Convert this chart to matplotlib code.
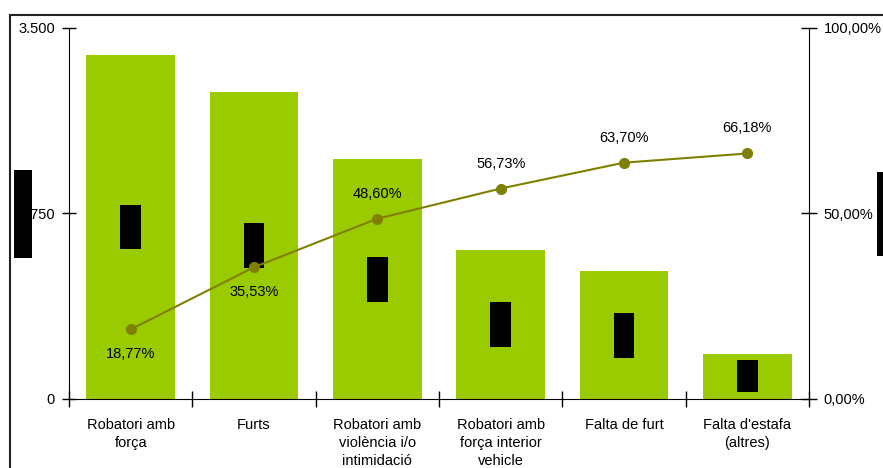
import matplotlib.pyplot as plt
from matplotlib.patches import Rectangle

plt.rcParams['font.family'] = ['Liberation Sans', 'DejaVu Sans']

categories = ["Robatori amb\nforça", "Furts", "Robatori amb\nviolència i/o\nintimidació",
              "Robatori amb\nforça interior\nvehicle", "Falta de furt", "Falta d'estafa\n(altres)"]
values = [3245, 2898, 2260, 1405, 1205, 429]
cum_pct = [18.77, 35.53, 48.60, 56.73, 63.70, 66.18]
pct_above = [False, False, True, True, True, True]
left_ticks = [0, 1750, 3500]
right_ticks = [0, 50, 100]

bar_color = "#9ACB00"
line_color = "#808000"

fig = plt.figure(figsize=(8.83, 4.68), dpi=100)
ax = fig.add_axes([69 / 883, 1 - 399 / 468, 740 / 883, 371 / 468])
x = list(range(len(categories)))

ax.bar(x, values, width=0.72, color=bar_color, zorder=2)
ax.set_xlim(-0.5, len(categories) - 0.5)
ax.set_ylim(0, 3500)
ax.set_yticks(left_ticks)
ax.set_yticklabels([f"{t:,}".replace(",", ".") for t in left_ticks], fontsize=10.5)
ax.set_xticks([i + 0.5 for i in range(-1, len(categories))])
ax.set_xticklabels([])
ax.set_xticks(x, minor=True)
ax.set_xticklabels(categories, minor=True, fontsize=10.5, linespacing=1.35)
ax.tick_params(axis="x", which="minor", length=0, pad=14)
ax.tick_params(axis="x", which="major", direction="inout", length=11, width=1)
ax.tick_params(axis="y", direction="inout", length=10, width=1, pad=5)
for s in ["top", "right"]:
    ax.spines[s].set_visible(False)

# value labels (hidden in black, as in the source)
for xi, v in zip(x, values):
    ax.text(xi, v / 2, f"{v:,}".replace(",", "."), rotation=90, ha="center", va="center",
            fontsize=11, color="black", zorder=4,
            bbox=dict(boxstyle="square,pad=0.22", fc="black", ec="none"))

ax2 = ax.twinx()
ax2.plot(x, cum_pct, color=line_color, lw=1.5, marker="o", ms=7, zorder=5)
ax2.set_ylim(0, 100)
ax2.set_yticks(right_ticks)
ax2.set_yticklabels([f"{t:.2f}%".replace(".", ",") for t in right_ticks], fontsize=10.5)
ax2.tick_params(axis="y", direction="inout", length=11, width=1, pad=5)
for s in ["top", "left", "bottom"]:
    ax2.spines[s].set_visible(False)
for xi, p, up in zip(x, cum_pct, pct_above):
    ax2.annotate(f"{p:.2f}%".replace(".", ","), (xi, p), xytext=(0, 18 if up else -18),
                 textcoords="offset points", ha="center", va="center", fontsize=10.5)

# axis titles (hidden in black)
fig.text(23 / 883, 1 - 214 / 468, "Nombre fets", rotation=90, ha="center", va="center",
         fontsize=11, color="black", bbox=dict(boxstyle="square,pad=0.15", fc="black", ec="none"))
fig.text(886 / 883, 1 - 214 / 468, "% acumulat", rotation=90, ha="center", va="center",
         fontsize=11, color="black", bbox=dict(boxstyle="square,pad=0.15", fc="black", ec="none"))

fig.add_artist(Rectangle((10 / 883, -0.1), 1.2, 1.1 - 15 / 468, transform=fig.transFigure,
                         fill=False, lw=1.5, edgecolor="#222222"))

fig.savefig("out.png", dpi=100)
